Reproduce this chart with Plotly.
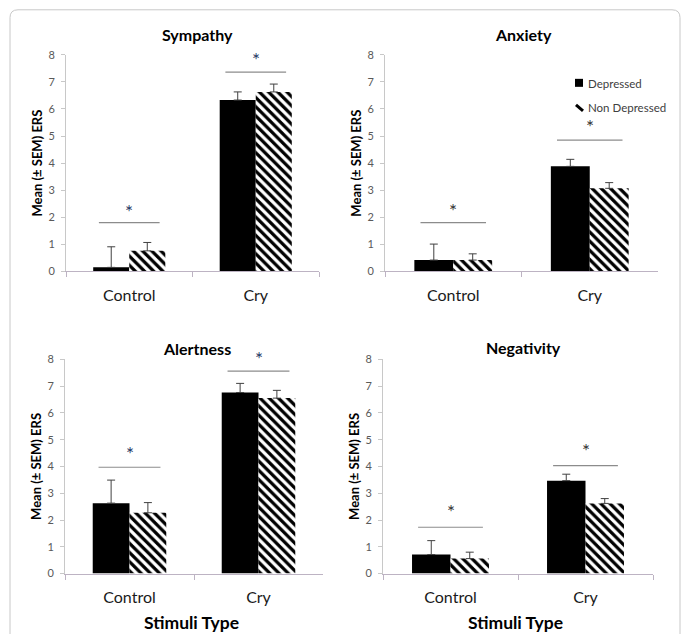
import plotly.graph_objects as go

categories = ["Control", "Cry"]
panel_titles = ["Sympathy", "Anxiety", "Alertness", "Negativity"]
group_names = ["Depressed", "Non Depressed"]

sympathy_dep = [0.15, 6.33]
sympathy_dep_sem = [0.76, 0.30]
sympathy_non = [0.76, 6.63]
sympathy_non_sem = [0.31, 0.29]

anxiety_dep = [0.42, 3.88]
anxiety_dep_sem = [0.59, 0.26]
anxiety_non = [0.42, 3.07]
anxiety_non_sem = [0.23, 0.21]

alertness_dep = [2.63, 6.76]
alertness_dep_sem = [0.86, 0.34]
alertness_non = [2.27, 6.55]
alertness_non_sem = [0.38, 0.29]

negativity_dep = [0.71, 3.47]
negativity_dep_sem = [0.52, 0.24]
negativity_non = [0.56, 2.62]
negativity_non_sem = [0.24, 0.18]

# significance bar heights and asterisk heights (per category)
sympathy_sig = [1.80, 7.36]
sympathy_star = [2.39, 8.00]
anxiety_sig = [1.80, 4.85]
anxiety_star = [2.45, 5.54]
alertness_sig = [3.97, 7.56]
alertness_star = [4.66, 8.22]
negativity_sig = [1.73, 4.03]
negativity_star = [2.49, 4.80]

y_ticks = [0, 1, 2, 3, 4, 5, 6, 7, 8]
Y_MAX = 8

W, H = 683, 634
FONT = "Lato, 'Open Sans', sans-serif"


def vy(y):
    # vertical layout position (px from top) compensated for the capture
    return (y - 7.2) / 0.979


def py_(y):
    return 1 - vy(y) / H


panels = [
    dict(title=panel_titles[0], dep=sympathy_dep, dsem=sympathy_dep_sem, non=sympathy_non, nsem=sympathy_non_sem,
         sig=sympathy_sig, star=sympathy_star, px=(66, 319), py=(271.5, 55), tpos=(197, 35), star_col="#1F3864", xtitle=False),
    dict(title=panel_titles[1], dep=anxiety_dep, dsem=anxiety_dep_sem, non=anxiety_non, nsem=anxiety_non_sem,
         sig=anxiety_sig, star=anxiety_star, px=(385, 658), py=(271.5, 55), tpos=(523, 35), star_col="#333333", xtitle=False),
    dict(title=panel_titles[2], dep=alertness_dep, dsem=alertness_dep_sem, non=alertness_non, nsem=alertness_non_sem,
         sig=alertness_sig, star=alertness_star, px=(65, 323), py=(573.5, 359.3), tpos=(197, 349), star_col="#1F3864", xtitle=True),
    dict(title=panel_titles[3], dep=negativity_dep, dsem=negativity_dep_sem, non=negativity_non, nsem=negativity_non_sem,
         sig=negativity_sig, star=negativity_star, px=(383, 653), py=(573.5, 359.3), tpos=(523, 348), star_col="#333333", xtitle=True),
]

fig = go.Figure()
layout = dict(
    width=W, height=H, margin=dict(l=0, r=0, t=0, b=0),
    paper_bgcolor="white", plot_bgcolor="white",
    barmode="group", bargap=0.43, bargroupgap=0,
    font=dict(family=FONT, color="#262626"),
    showlegend=False,
)
annotations = []
shapes = []

for i, p in enumerate(panels):
    n = "" if i == 0 else str(i + 1)
    xa, ya = "x" + n, "y" + n
    fig.add_trace(go.Bar(
        x=categories, y=p["dep"], name=group_names[0], xaxis=xa, yaxis=ya,
        marker=dict(color="black", line=dict(width=0)),
        error_y=dict(type="data", symmetric=False, array=p["dsem"], arrayminus=[0, 0],
                     color="#404040", thickness=1, width=4),
        offsetgroup="a",
    ))
    fig.add_trace(go.Bar(
        x=categories, y=p["non"], name=group_names[1], xaxis=xa, yaxis=ya,
        marker=dict(color="white", line=dict(width=0),
                    pattern=dict(shape="\\", fgcolor="black", bgcolor="white", fgopacity=1,
                                 size=6.5, solidity=0.5, fillmode="replace")),
        error_y=dict(type="data", symmetric=False, array=p["nsem"], arrayminus=[0, 0],
                     color="#404040", thickness=1, width=4),
        offsetgroup="b",
    ))
    layout["xaxis" + n] = dict(
        domain=[p["px"][0] / W, p["px"][1] / W], anchor=ya, type="category",
        range=[-0.5, 1.5], tickson="boundaries", ticks="outside", ticklen=5,
        tickcolor="#BDB3C3", showline=True, linecolor="#BDB3C3", linewidth=1,
        tickfont=dict(size=16, color="#1a1a1a"), ticklabelstandoff=9,
        showgrid=False, zeroline=False, fixedrange=True,
    )
    layout["yaxis" + n] = dict(
        domain=[py_(p["py"][0]), py_(p["py"][1])], anchor=xa,
        range=[0, Y_MAX], tickvals=y_ticks, ticks="outside", ticklen=4,
        tickcolor="#C8C8C8", showline=True, linecolor="#C8C8C8", linewidth=1,
        tickfont=dict(size=11, color="#595959"), ticklabelstandoff=4,
        showgrid=False, zeroline=False, fixedrange=True,
        title=dict(text="<b>Mean (± SEM) ERS</b>", font=dict(size=13, color="black"), standoff=2),
    )
    annotations.append(dict(text="<b>%s</b>" % p["title"], x=p["tpos"][0] / W, y=py_(p["tpos"][1]),
                            xref="paper", yref="paper", xanchor="center", yanchor="middle",
                            showarrow=False, font=dict(size=16, color="black")))
    if p["xtitle"]:
        annotations.append(dict(text="<b>Stimuli Type</b>", x=(p["px"][0] + p["px"][1]) / 2 / W - 3 / W,
                                y=py_(622), xref="paper", yref="paper", xanchor="center",
                                yanchor="middle", showarrow=False, font=dict(size=17.5, color="black")))
    for k in range(len(categories)):
        shapes.append(dict(type="line", xref=xa, yref=ya, x0=k - 0.24, x1=k + 0.24,
                           y0=p["sig"][k], y1=p["sig"][k], line=dict(color="#8C8C8C", width=1.2)))
        annotations.append(dict(text="*", xref=xa, yref=ya + " domain", x=k, y=p["star"][k] / Y_MAX,
                                xanchor="center", yanchor="middle", yshift=-5, showarrow=False,
                                font=dict(size=19, color=p["star_col"])))

# manual legend (Anxiety panel)
shapes.append(dict(type="rect", xref="paper", yref="paper", x0=575 / W, x1=583 / W,
                   y0=py_(87), y1=py_(79), fillcolor="black", line=dict(width=0)))
shapes.append(dict(type="line", xref="paper", yref="paper", x0=576 / W, x1=583 / W,
                   y0=py_(105), y1=py_(111), line=dict(color="black", width=3)))
annotations.append(dict(text=group_names[0], xref="paper", yref="paper", x=585.5 / W, y=py_(83.5),
                        xanchor="left", yanchor="middle", showarrow=False,
                        font=dict(size=11.5, color="#404040")))
annotations.append(dict(text=group_names[1], xref="paper", yref="paper", x=585.5 / W, y=py_(108),
                        xanchor="left", yanchor="middle", showarrow=False,
                        font=dict(size=11.5, color="#404040")))

# rounded outer frame
x0, x1 = 10 / W, 680 / W
yt, yb = py_(10), -0.05
rx, ry = 8 / W, 8 / H
path = (f"M {x0},{yb} L {x0},{yt - ry} Q {x0},{yt} {x0 + rx},{yt} "
        f"L {x1 - rx},{yt} Q {x1},{yt} {x1},{yt - ry} L {x1},{yb}")
shapes.append(dict(type="path", xref="paper", yref="paper", path=path,
                   line=dict(color="#C8C8C8", width=1), layer="below"))

layout["annotations"] = annotations
layout["shapes"] = shapes
fig.update_layout(**layout)

post = (
    "document.documentElement.style.margin='0';document.documentElement.style.padding='0';"
    "document.documentElement.style.overflow='hidden';"
    "document.body.style.margin='0';document.body.style.padding='0';document.body.style.overflow='hidden';"
    "var gd=document.querySelector('.plotly-graph-div');"
    "gd.style.position='fixed';gd.style.left='0px';gd.style.top='0px';"
)
fig.write_html("out.html", config={"displayModeBar": False}, post_script=post)
